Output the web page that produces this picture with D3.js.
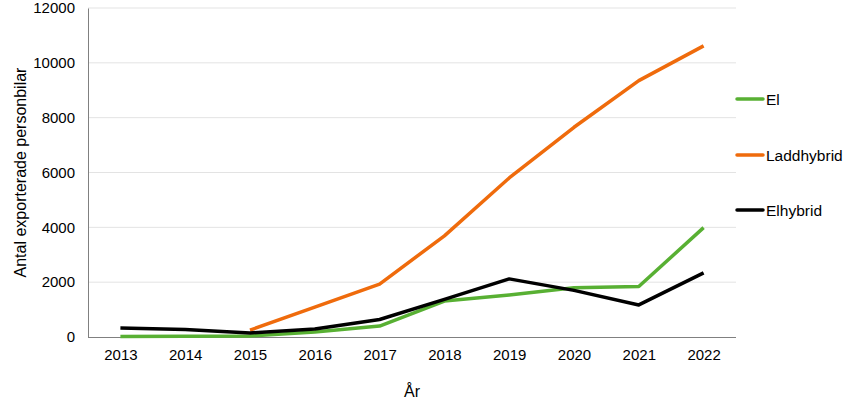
<!DOCTYPE html>
<html>
<head>
<meta charset="utf-8">
<script src="https://cdn.jsdelivr.net/npm/d3@7"></script>
<style>
  body { margin: 0; background: #fff; }
  svg text { font-family: "Liberation Sans", Arial, sans-serif; fill: #000; }
</style>
</head>
<body>
<div id="chart"></div>
<script>
var years = ["2013", "2014", "2015", "2016", "2017", "2018", "2019", "2020", "2021", "2022"];
var elValues = [20, 30, 40, 180, 400, 1310, 1530, 1800, 1840, 3990];
var laddValues = [null, null, 250, 1090, 1930, 3690, 5800, 7650, 9350, 10620];
var elhybridValues = [330, 270, 150, 290, 640, 1370, 2120, 1700, 1170, 2340];
var yTicks = [0, 2000, 4000, 6000, 8000, 10000, 12000];

var series = [
  {name: "El", values: elValues, color: "#58b033"},
  {name: "Laddhybrid", values: laddValues, color: "#ef6b0c"},
  {name: "Elhybrid", values: elhybridValues, color: "#000000"}
];

var margin = {top: 8, right: 112, bottom: 62, left: 88},
    width = 848 - margin.left - margin.right,
    height = 399 - margin.top - margin.bottom;

var svg = d3.select("#chart").append("svg")
    .attr("width", 848)
    .attr("height", 399);

var g = svg.append("g")
    .attr("transform", "translate(" + margin.left + "," + margin.top + ")");

var xScale = d3.scalePoint()
    .domain(years)
    .range([0, width])
    .padding(0.5);

var yScale = d3.scaleLinear()
    .domain([0, 12000])
    .range([height, 0]);

// gridlines
g.selectAll(".grid")
  .data(yTicks.filter(function(d) { return d > 0; }))
  .enter().append("line")
    .attr("class", "grid")
    .attr("x1", 0)
    .attr("x2", width)
    .attr("y1", function(d) { return yScale(d); })
    .attr("y2", function(d) { return yScale(d); })
    .attr("stroke", "#e3e3e3")
    .attr("stroke-width", 1);

var yAxis = g.append("g")
    .call(d3.axisLeft(yScale).tickValues(yTicks).tickSize(0).tickPadding(13).tickFormat(d3.format("d")));
yAxis.select(".domain").attr("stroke", "#808080");
yAxis.selectAll("text").style("font-size", "15px");

var xAxis = g.append("g")
    .attr("transform", "translate(0," + height + ")")
    .call(d3.axisBottom(xScale).tickSize(0).tickPadding(12));
xAxis.select(".domain").attr("stroke", "#808080").attr("d", "M0,0.5H" + width);
xAxis.selectAll("text").style("font-size", "15px");

var line = d3.line()
    .defined(function(d) { return d.v !== null; })
    .x(function(d) { return xScale(d.year); })
    .y(function(d) { return yScale(d.v); });

series.forEach(function(s) {
  var pts = years.map(function(y, i) { return {year: y, v: s.values[i]}; });
  g.append("path")
    .datum(pts)
    .attr("fill", "none")
    .attr("stroke", s.color)
    .attr("stroke-width", 3.5)
    .attr("stroke-linejoin", "round")
    .attr("d", line);
});

// legend
var legendY = [99, 155, 210];
var legend = svg.selectAll(".legend")
  .data(series)
  .enter().append("g")
    .attr("class", "legend")
    .attr("transform", function(d, i) { return "translate(737," + legendY[i] + ")"; });
legend.append("line")
    .attr("x1", 0).attr("x2", 26)
    .attr("y1", 0).attr("y2", 0)
    .attr("stroke", function(d) { return d.color; })
    .attr("stroke-width", 3.5)
    .attr("stroke-linecap", "round");
legend.append("text")
    .attr("x", 29)
    .attr("y", 5.5)
    .style("font-size", "15.5px")
    .text(function(d) { return d.name; });

// axis titles
svg.append("text")
    .attr("transform", "translate(26," + (margin.top + height / 2) + ") rotate(-90)")
    .attr("text-anchor", "middle")
    .style("font-size", "16px")
    .text("Antal exporterade personbilar");

svg.append("text")
    .attr("x", margin.left + width / 2)
    .attr("y", 397)
    .attr("text-anchor", "middle")
    .style("font-size", "16px")
    .text("År");
</script>
</body>
</html>
